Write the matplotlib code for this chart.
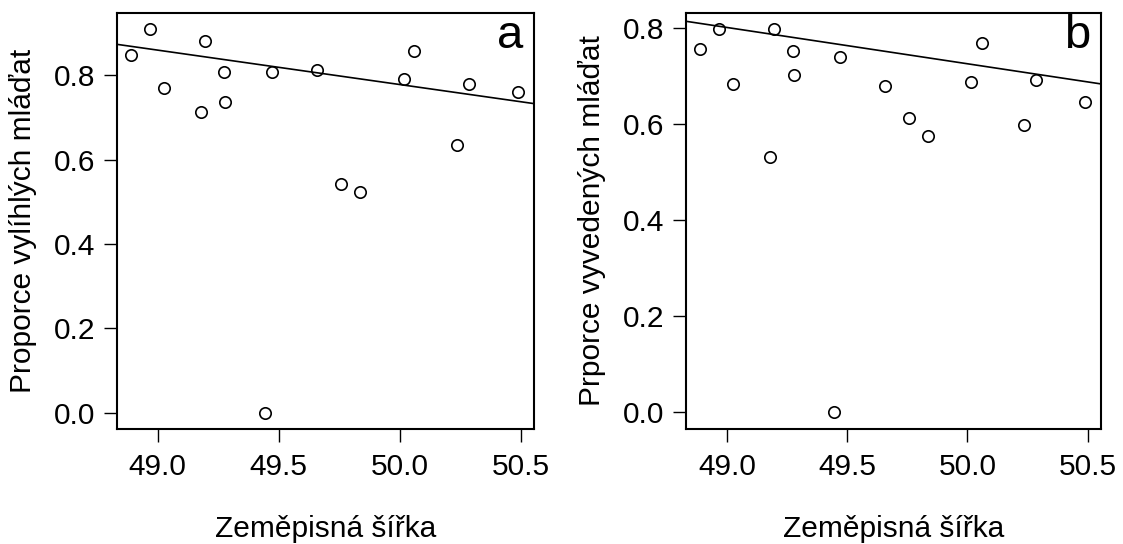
import matplotlib
matplotlib.use("Agg")
import matplotlib.pyplot as plt
import numpy as np

plt.rcParams['font.family'] = ['Liberation Sans', 'DejaVu Sans']

# latitude of the sites (shared by both panels)
latitude = [48.89, 48.968, 49.025, 49.179, 49.197, 49.275, 49.277, 49.445, 49.47,
            49.658, 49.758, 49.836, 50.016, 50.06, 50.237, 50.286, 50.489]

# proportion of hatched young (panel a)
hatched = [0.848, 0.909, 0.769, 0.714, 0.882, 0.807, 0.737, 0.0, 0.807,
           0.812, 0.542, 0.524, 0.792, 0.859, 0.635, 0.779, 0.761]

# proportion of fledged young (panel b)
fledged = [0.757, 0.797, 0.683, 0.531, 0.797, 0.752, 0.703, 0.0, 0.740,
           0.679, 0.613, 0.576, 0.687, 0.769, 0.597, 0.691, 0.646]

# fitted lines: value at 49.0 and slope per degree
line_a = (0.860, -0.0816)
line_b = (0.801, -0.0756)

xticks = [49.0, 49.5, 50.0, 50.5]
yticks = [0.0, 0.2, 0.4, 0.6, 0.8]

fig = plt.figure(figsize=(11.23, 5.44), dpi=100)
ax_a = fig.add_axes([0.1039, 0.2114, 0.3716, 0.7646])
ax_b = fig.add_axes([0.6109, 0.2114, 0.3695, 0.7646])

panels = [
    (ax_a, hatched, line_a, 'Proporce vylíhlých mláďat', 'a', (-0.039, 0.948)),
    (ax_b, fledged, line_b, 'Prporce vyvedených mláďat', 'b', (-0.035, 0.831)),
]

for ax, values, (b0, slope), ylabel, tag, ylim in panels:
    ax.plot(latitude, values, 'o', mfc='none', mec='black', ms=8.2, mew=1.2)
    xlim = (48.83, 50.555)
    xs = np.array(xlim)
    ax.plot(xs, b0 + slope * (xs - 49.0), color='black', lw=1.2)
    ax.set_xlim(xlim)
    ax.set_ylim(ylim)
    ax.set_xticks(xticks)
    ax.set_xticklabels([f'{t:.1f}' for t in xticks])
    ax.set_yticks(yticks)
    ax.set_yticklabels([f'{t:.1f}' for t in yticks])
    ax.tick_params(length=9.5, width=1.0, labelsize=21.5, pad=6)
    ax.tick_params(axis='x', pad=8)
    for sp in ax.spines.values():
        sp.set_linewidth(1.5)
    ax.set_xlabel('Zeměpisná šířka', fontsize=21.5, labelpad=24)
    ax.set_ylabel(ylabel, fontsize=21.5, labelpad=12)
    ax.text(0.975, 0.915, tag, transform=ax.transAxes, ha='right', va='baseline',
            fontsize=34)

fig.savefig('out.png', dpi=100, facecolor='white')
